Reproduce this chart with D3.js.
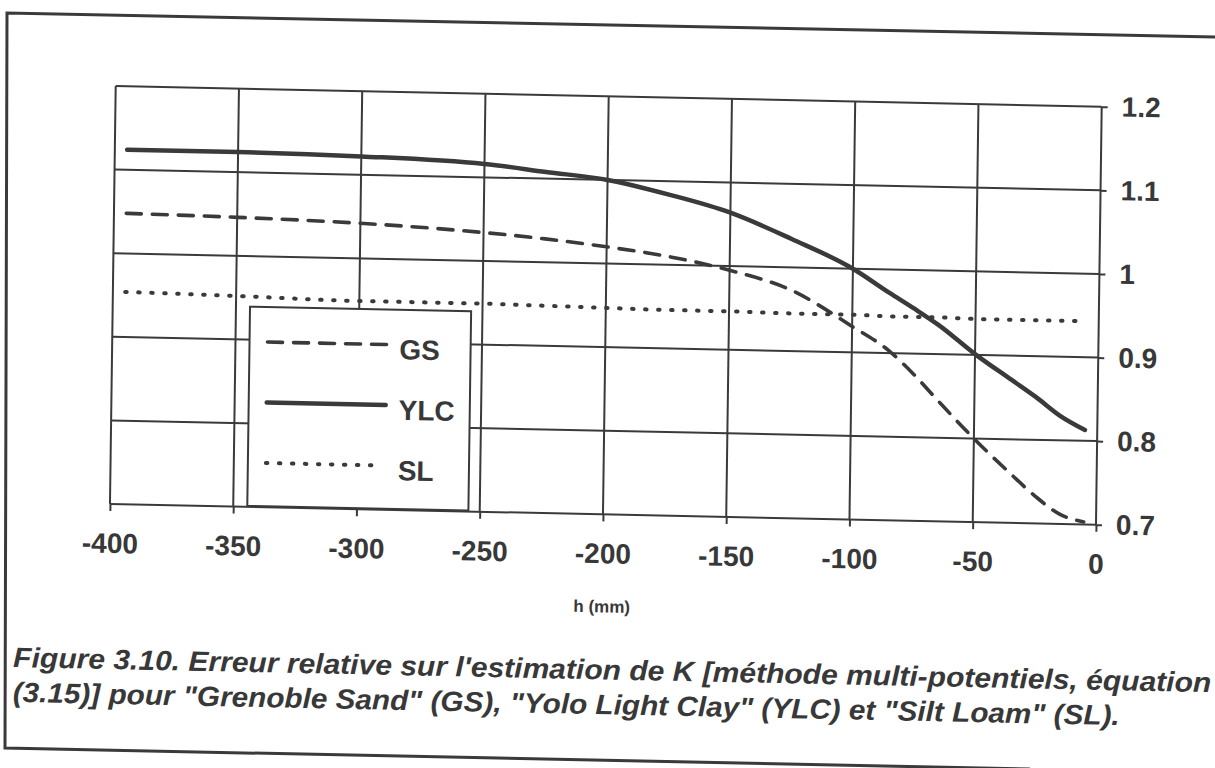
<!DOCTYPE html>
<html>
<head>
<meta charset="utf-8">
<script src="https://cdn.jsdelivr.net/npm/d3@7"></script>
<style>
  html, body { margin: 0; padding: 0; background: #fff; }
  svg { display: block; }
  text { font-family: "Liberation Sans", Arial, sans-serif; fill: #383838; }
</style>
</head>
<body>
<svg id="chart" width="1215" height="768"></svg>
<script>
// ---- data ----
const hVals   = [-395, -350, -300, -250, -225, -200, -175, -150, -125, -100, -85, -75, -65, -50, -35, -25, -15, -5];
const gsVals  = [1.048, 1.046, 1.042, 1.034, 1.028, 1.020, 1.010, 0.995, 0.973, 0.931, 0.903, 0.876, 0.845, 0.800, 0.759, 0.733, 0.712, 0.703];
const ylcVals = [1.124, 1.124, 1.122, 1.116, 1.108, 1.100, 1.084, 1.064, 1.034, 1.000, 0.972, 0.954, 0.935, 0.901, 0.871, 0.851, 0.829, 0.813];
const slVals  = [0.954, 0.952, 0.949, 0.949, 0.948, 0.947, 0.946, 0.946, 0.945, 0.945, 0.944, 0.944, 0.944, 0.943, 0.943, 0.943, 0.943, 0.943];
const xTicks = [-400, -350, -300, -250, -200, -150, -100, -50, 0];
const xTickLabels = ["-400", "-350", "-300", "-250", "-200", "-150", "-100", "-50", "0"];
const yTicks = [0.7, 0.8, 0.9, 1.0, 1.1, 1.2];
const yTickLabels = ["0.7", "0.8", "0.9", "1", "1.1", "1.2"];
const seriesNames = ["GS", "YLC", "SL"];
const xTitle = "h (mm)";
const captionLines = [
  "Figure 3.10. Erreur relative sur l'estimation de K [méthode multi-potentiels, équation",
  "(3.15)] pour \"Grenoble Sand\" (GS), \"Yolo Light Clay\" (YLC) et \"Silt Loam\" (SL)."
];

// ---- layout ----
const W = 986, H = 418;
const ink = "#3a3a3a";
const svg = d3.select("#chart");

// outer (scanned) frame
svg.append("path")
  .attr("d", "M1215,37 L7,13 L5,748 L1030,769")
  .attr("fill", "none").attr("stroke", ink).attr("stroke-width", 3);

// the scanned page is slightly rotated / sheared
const g = svg.append("g").attr("transform", "matrix(1,0.021,-0.0137,1,115.7,86)");

const x = d3.scaleLinear().domain([-400, 0]).range([0, W]);
const y = d3.scaleLinear().domain([0.7, 1.2]).range([H, 0]);

// gridlines (include border)
g.append("g").selectAll("line").data(xTicks).join("line")
  .attr("x1", d => x(d)).attr("x2", d => x(d)).attr("y1", 0).attr("y2", H)
  .attr("stroke", ink).attr("stroke-width", 2);
g.append("g").selectAll("line").data(yTicks).join("line")
  .attr("x1", 0).attr("x2", W).attr("y1", d => y(d)).attr("y2", d => y(d))
  .attr("stroke", ink).attr("stroke-width", 2);

// axes
const xAxis = d3.axisBottom(x).tickValues(xTicks)
  .tickFormat((d, i) => xTickLabels[i]).tickSize(7).tickSizeOuter(0).tickPadding(22);
const gx = g.append("g").attr("transform", `translate(0,${H})`).call(xAxis);
gx.select(".domain").remove();
gx.selectAll(".tick line").attr("stroke", ink).attr("stroke-width", 2);
gx.selectAll(".tick text").attr("font-size", 28).attr("font-weight", "bold")
  .style("font-family", "'Liberation Sans', Arial, sans-serif").attr("fill", "#383838");

const yAxis = d3.axisRight(y).tickValues(yTicks)
  .tickFormat((d, i) => yTickLabels[i]).tickSize(6).tickSizeOuter(0).tickPadding(14);
const gy = g.append("g").attr("transform", `translate(${W},0)`).call(yAxis);
gy.select(".domain").remove();
gy.selectAll(".tick line").attr("stroke", ink).attr("stroke-width", 2);
gy.selectAll(".tick text").attr("font-size", 28).attr("font-weight", "bold")
  .style("font-family", "'Liberation Sans', Arial, sans-serif").attr("fill", "#383838");

// axis title
g.append("text").attr("x", x(-200)).attr("y", H + 98)
  .attr("text-anchor", "middle").attr("font-size", 17).attr("font-weight", "bold")
  .text(xTitle);

// series
const styles = {
  GS:  { width: 3.6, dash: "15 11", cap: "round" },
  YLC: { width: 4.5, dash: null,    cap: "round" },
  SL:  { width: 4.0, dash: "1.5 11.5", cap: "round" }
};
const seriesData = { GS: gsVals, YLC: ylcVals, SL: slVals };
const line = d3.line().x(d => x(d[0])).y(d => y(d[1])).curve(d3.curveMonotoneX);
seriesNames.forEach(name => {
  const st = styles[name];
  g.append("path")
    .datum(hVals.map((h, i) => [h, seriesData[name][i]]))
    .attr("d", line)
    .attr("fill", "none").attr("stroke", ink)
    .attr("stroke-width", st.width)
    .attr("stroke-linecap", st.cap)
    .attr("stroke-dasharray", st.dash);
});

// legend
const lg = g.append("g").attr("transform", `translate(${x(-344.3)},${y(0.9395)})`);
const lgW = x(-254.6) - x(-344.3), lgH = H - y(0.9395) - 1;
lg.append("rect").attr("width", lgW).attr("height", lgH)
  .attr("fill", "#fff").attr("stroke", ink).attr("stroke-width", 2);
seriesNames.forEach((name, i) => {
  const st = styles[name];
  const ly = 35 + i * 60.5;
  lg.append("line").attr("x1", 18).attr("x2", name === "SL" ? 130 : 137)
    .attr("y1", ly).attr("y2", ly)
    .attr("stroke", ink).attr("stroke-width", st.width)
    .attr("stroke-linecap", st.cap).attr("stroke-dasharray", st.dash);
  lg.append("text").attr("x", 150).attr("y", ly + 14.5)
    .attr("font-size", 28).attr("font-weight", "bold").text(name);
});

// caption
captionLines.forEach((t, i) => {
  g.append("text")
    .attr("x", -94.6).attr("y", 583 + i * 34.8)
    .attr("font-size", 28).attr("font-weight", "bold").attr("font-style", "italic")
    .attr("textLength", i === 0 ? 1198 : 1107).attr("lengthAdjust", "spacingAndGlyphs")
    .text(t);
});
</script>
</body>
</html>
